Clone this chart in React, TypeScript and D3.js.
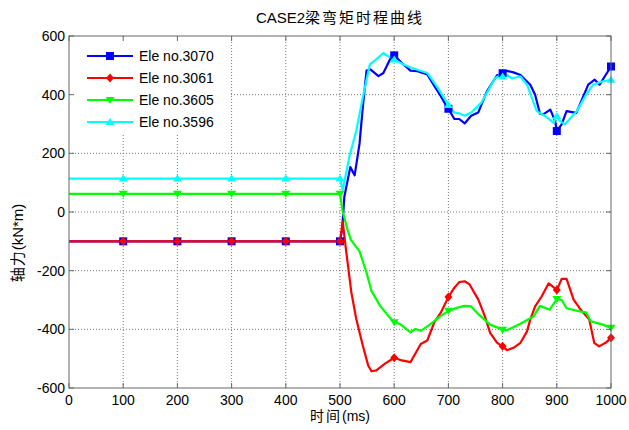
import React from "react";
import * as d3 from "d3";

const xTicks = [0, 100, 200, 300, 400, 500, 600, 700, 800, 900, 1000];
const yTicks = [-600, -400, -200, 0, 200, 400, 600];
const markerTimes = [100, 200, 300, 400, 500, 600, 700, 800, 900, 1000];

const t3070 = [0, 100, 200, 300, 400, 500, 504, 508, 519, 527, 536, 542, 549, 556, 571, 580, 596, 600, 614, 630, 643, 661, 674, 686, 696, 700, 711, 720, 730, 742, 755, 771, 790, 797, 800, 808, 820, 833, 851, 860, 869, 875, 888, 897, 900, 909, 918, 936, 958, 970, 979, 1000];
const v3070 = [-100, -100, -100, -100, -100, -100, -60, 52, 153, 125, 232, 356, 482, 486, 463, 474, 534, 534, 508, 482, 480, 469, 430, 395, 362, 352, 317, 317, 302, 328, 339, 411, 467, 462, 473, 481, 476, 467, 434, 400, 335, 333, 349, 310, 276, 299, 344, 338, 434, 451, 434, 496];

const t3061 = [0, 100, 200, 300, 400, 500, 505, 511, 521, 530, 542, 552, 558, 567, 583, 600, 614, 630, 649, 661, 674, 686, 700, 711, 720, 730, 739, 755, 767, 777, 790, 800, 808, 820, 833, 845, 851, 860, 872, 885, 891, 900, 909, 918, 931, 942, 960, 969, 978, 990, 1000];
const v3061 = [-100, -100, -100, -100, -100, -100, -33, -128, -275, -365, -455, -523, -543, -540, -517, -497, -506, -512, -450, -438, -376, -343, -290, -258, -239, -236, -247, -298, -354, -412, -446, -458, -471, -463, -446, -407, -367, -322, -288, -243, -252, -266, -228, -228, -299, -328, -367, -446, -458, -446, -429];

const t3605 = [0, 100, 200, 300, 400, 500, 505, 514, 520, 536, 549, 558, 574, 589, 600, 611, 630, 639, 649, 667, 686, 700, 717, 730, 742, 755, 777, 800, 808, 833, 857, 869, 887, 900, 909, 918, 942, 954, 963, 985, 1000];
const v3605 = [62, 62, 62, 62, 62, 62, 1, -61, -95, -134, -207, -269, -320, -354, -376, -382, -410, -399, -405, -382, -354, -337, -326, -320, -322, -348, -384, -401, -403, -381, -356, -320, -333, -297, -300, -328, -339, -342, -373, -384, -395];

const t3596 = [0, 100, 200, 300, 400, 500, 505, 517, 530, 542, 555, 564, 580, 589, 600, 617, 633, 661, 680, 700, 711, 720, 730, 742, 761, 771, 786, 796, 800, 808, 817, 833, 845, 863, 879, 894, 900, 906, 915, 937, 952, 967, 983, 1000];
const v3596 = [114, 114, 114, 114, 114, 114, 74, 187, 277, 390, 503, 516, 542, 531, 520, 503, 491, 474, 424, 365, 339, 336, 328, 339, 373, 406, 456, 467, 462, 467, 456, 462, 434, 344, 327, 304, 327, 310, 299, 344, 394, 434, 445, 451];

const seriesNames = ["Ele no.3070", "Ele no.3061", "Ele no.3605", "Ele no.3596"];
const seriesColors = ["#0000ff", "#ff0000", "#00ff00", "#00ffff"];
const seriesMarkers = ["square", "diamond", "tridown", "triup"];
const seriesT = [t3070, t3061, t3605, t3596];
const seriesV = [v3070, v3061, v3605, v3596];

const W = 629, H = 430;
const L = 69, R = 611, T = 36, B = 388;
const FONT = "'Liberation Sans', Arial, 'Noto Sans CJK SC', sans-serif";

function Marker({ kind, x, y, color }: { kind: string; x: number; y: number; color: string }) {
  if (kind === "square") return <rect x={x - 4} y={y - 4} width={8} height={8} fill={color} />;
  if (kind === "diamond") return <path d={`M${x},${y - 4.5}L${x + 4},${y}L${x},${y + 4.5}L${x - 4},${y}Z`} fill={color} />;
  if (kind === "tridown") return <path d={`M${x - 4.5},${y - 3}L${x + 4.5},${y - 3}L${x},${y + 4}Z`} fill={color} />;
  return <path d={`M${x - 4.5},${y + 3}L${x + 4.5},${y + 3}L${x},${y - 4}Z`} fill={color} />;
}

export default function App() {
  const x = d3.scaleLinear().domain([0, 1000]).range([L, R]);
  const y = d3.scaleLinear().domain([-600, 600]).range([B, T]);
  const line = d3.line<[number, number]>().x((d) => x(d[0])).y((d) => y(d[1]));

  const series = seriesNames.map((name, i) => {
    const pts: [number, number][] = seriesT[i].map((t, j) => [t, seriesV[i][j]]);
    const marks = pts.filter((p) => markerTimes.includes(p[0]));
    return { name, color: seriesColors[i], marker: seriesMarkers[i], pts, marks };
  });

  const legendY = [56, 78, 100, 122];

  return (
    <svg width={W} height={H} style={{ position: "absolute", left: 0, top: 0, background: "#fff" }} fontFamily={FONT}>
      <rect x={0} y={0} width={W} height={H} fill="#fff" />
      {xTicks.slice(1, -1).map((t) => (
        <line key={"gx" + t} x1={x(t)} x2={x(t)} y1={T} y2={B} stroke="#777" strokeWidth={1} strokeDasharray="1,2" />
      ))}
      {yTicks.slice(1, -1).map((t) => (
        <line key={"gy" + t} x1={L} x2={R} y1={y(t)} y2={y(t)} stroke="#777" strokeWidth={1} strokeDasharray="1,2" />
      ))}
      <rect x={L + 1} y={T + 1} width={159} height={98} fill="#fff" />
      <g clipPath="url(#clip)">
        {series.map((s) => (
          <path key={s.name} d={line(s.pts) || ""} fill="none" stroke={s.color} strokeWidth={2.2} strokeLinejoin="round" />
        ))}
        {series.map((s) =>
          s.marks.map((p, k) => <Marker key={s.name + k} kind={s.marker} x={x(p[0])} y={y(p[1])} color={s.color} />)
        )}
      </g>
      <defs>
        <clipPath id="clip">
          <rect x={L - 6} y={T - 6} width={R - L + 12} height={B - T + 12} />
        </clipPath>
      </defs>
      <rect x={L} y={T} width={R - L} height={B - T} fill="none" stroke="#666" strokeWidth={1} />
      {xTicks.map((t) => (
        <g key={"tx" + t}>
          <line x1={x(t)} x2={x(t)} y1={B} y2={B - 5} stroke="#666" />
          <line x1={x(t)} x2={x(t)} y1={T} y2={T + 5} stroke="#666" />
          <text x={x(t)} y={B + 17} fontSize={14} textAnchor="middle" fill="#000">{t}</text>
        </g>
      ))}
      {yTicks.map((t) => (
        <g key={"ty" + t}>
          <line x1={L} x2={L + 5} y1={y(t)} y2={y(t)} stroke="#666" />
          <line x1={R} x2={R - 5} y1={y(t)} y2={y(t)} stroke="#666" />
          <text x={L - 4} y={y(t) + 5} fontSize={14} textAnchor="end" fill="#000">{t}</text>
        </g>
      ))}
      {series.map((s, i) => (
        <g key={"lg" + i}>
          <line x1={87} x2={133} y1={legendY[i]} y2={legendY[i]} stroke={s.color} strokeWidth={2.2} />
          <Marker kind={s.marker} x={110} y={legendY[i]} color={s.color} />
          <text x={139} y={legendY[i] + 5} fontSize={14} fill="#000">{s.name}</text>
        </g>
      ))}
      <text x={340} y={23} fontSize={15} textAnchor="middle" fill="#000">
        CASE2<tspan letterSpacing={2}>梁弯矩时程曲线</tspan>
      </text>
      <text x={340} y={421} fontSize={14} textAnchor="middle" fill="#000">
        <tspan letterSpacing={2}>时间</tspan>(ms)
      </text>
      <text transform={`translate(23,${243}) rotate(-90)`} fontSize={15} textAnchor="middle" fill="#000">
        <tspan letterSpacing={1}>轴力</tspan>(kN*m)
      </text>
    </svg>
  );
}
